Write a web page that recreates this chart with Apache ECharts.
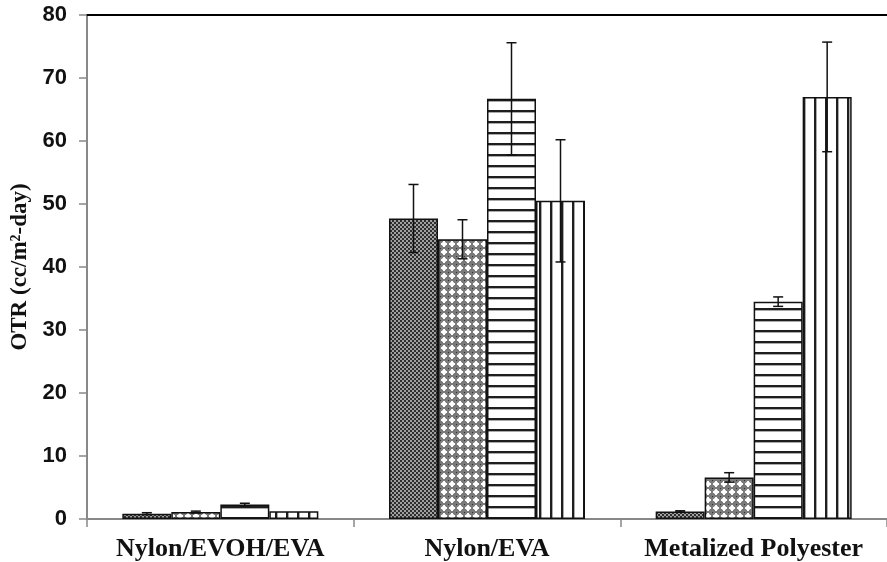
<!DOCTYPE html>
<html>
<head>
<meta charset="utf-8">
<script src="https://cdn.jsdelivr.net/npm/echarts@6/dist/echarts.min.js"></script>
<style>html,body{margin:0;padding:0;background:#fff}#c{width:887px;height:562px}</style>
</head>
<body>
<div id="c"></div>
<script>
const categories = ['Nylon/EVOH/EVA', 'Nylon/EVA', 'Metalized Polyester'];
const series1 = [0.85, 47.7, 1.2];
const series2 = [1.1, 44.4, 6.6];
const series3 = [2.3, 66.7, 34.5];
const series4 = [1.25, 50.5, 67.0];
const err1 = [0.15, 5.4, 0.1];
const err2 = [0.15, 3.1, 0.75];
const err3 = [0.2, 8.9, 0.75];
const err4 = [0, 9.7, 8.7];
const yTicks = [0, 10, 20, 30, 40, 50, 60, 70, 80];

function tile(w, h, draw) {
  const c = document.createElement('canvas');
  c.width = w; c.height = h;
  const g = c.getContext('2d');
  draw(g);
  return c;
}
const pat1 = tile(4, 4, g => {
  g.fillStyle = '#a0a0a0'; g.fillRect(0, 0, 4, 4);
  g.fillStyle = '#2e2e2e'; g.fillRect(0, 0, 2, 2); g.fillRect(2, 2, 2, 2);
});
const pat2 = tile(8, 8, g => {
  g.fillStyle = '#7a7a7a'; g.fillRect(0, 0, 8, 8);
  g.fillStyle = '#ffffff'; g.fillRect(3, 1, 2, 6); g.fillRect(1, 3, 6, 2);
  g.fillStyle = '#d8d8d8'; g.fillRect(2, 2, 4, 4);
  g.fillStyle = '#ffffff'; g.fillRect(3, 2, 2, 4); g.fillRect(2, 3, 4, 2);
  g.fillStyle = '#333'; g.fillRect(0, 0, 1, 1);
});
const pat3 = tile(4, 11, g => {
  g.fillStyle = '#ffffff'; g.fillRect(0, 0, 4, 11);
  g.fillStyle = '#1e1e1e'; g.fillRect(0, 0, 4, 2);
  g.fillStyle = '#aaaaaa'; g.fillRect(0, 2, 4, 1);
});
const pat4 = tile(11, 4, g => {
  g.fillStyle = '#ffffff'; g.fillRect(0, 0, 11, 4);
  g.fillStyle = '#1e1e1e'; g.fillRect(0, 0, 2, 4);
  g.fillStyle = '#aaaaaa'; g.fillRect(2, 0, 1, 4);
});

const values = [series1, series2, series3, series4];
const errs = [err1, err2, err3, err4];
const pats = [pat1, pat2, pat3, pat4];
const BW = 49;

const errData = [];
values.forEach((arr, s) => arr.forEach((v, ci) => errData.push([ci, v, errs[s][ci], s])));

const chart = echarts.init(document.getElementById('c'), null, {renderer: 'canvas'});
const barSeries = values.map((arr, s) => ({
  type: 'bar',
  data: arr,
  barWidth: BW,
  barGap: '0%',
  itemStyle: {color: {image: pats[s], repeat: 'repeat'}, borderColor: '#111', borderWidth: 1.5},
  emphasis: {disabled: true},
  z: 2
}));

chart.setOption({
  animation: false,
  grid: {left: 87, right: 0, top: 15, bottom: 43, containLabel: false, outerBoundsMode: 'none'},
  xAxis: [{
    type: 'category',
    data: categories,
    axisLine: {lineStyle: {color: '#888', width: 2}},
    axisTick: {show: true, length: 8, lineStyle: {color: '#888', width: 1.5}},
    axisLabel: {interval: 0, hideOverlap: false, fontFamily: 'Liberation Serif', fontWeight: 'bold', fontSize: 26, color: '#111', margin: 17}
  }, {
    type: 'category',
    position: 'top',
    data: categories,
    axisLine: {lineStyle: {color: '#000', width: 2}},
    axisTick: {show: false},
    axisLabel: {show: false}
  }],
  yAxis: {
    type: 'value',
    min: 0, max: 80, interval: 10,
    name: 'OTR (cc/m\u00b2-day)',
    nameLocation: 'middle',
    nameGap: 55,
    nameTextStyle: {fontFamily: 'Liberation Serif', fontWeight: 'bold', fontSize: 23, color: '#111'},
    axisLine: {show: true, lineStyle: {color: '#888', width: 2}},
    axisTick: {show: true, length: 8, lineStyle: {color: '#888', width: 1.5}},
    splitLine: {show: false},
    axisLabel: {fontFamily: 'Liberation Sans', fontWeight: 'bold', fontSize: 22, color: '#111', margin: 20,
      formatter: v => yTicks.includes(v) ? String(v) : ''}
  },
  series: barSeries.concat([{
    type: 'custom',
    data: errData,
    encode: {x: 0, y: 1},
    z: 5,
    renderItem: (params, api) => {
      const ci = api.value(0), v = api.value(1), e = api.value(2), s = api.value(3);
      if (!e) return null;
      const cx = api.coord([ci, 0])[0] + (s - 1.5) * BW;
      const yH = api.coord([ci, v + e])[1];
      const yL = api.coord([ci, v - e])[1];
      const st = {stroke: '#111', lineWidth: 1.5};
      return {type: 'group', children: [
        {type: 'line', shape: {x1: cx, y1: yH, x2: cx, y2: yL}, style: st},
        {type: 'line', shape: {x1: cx - 5, y1: yH, x2: cx + 5, y2: yH}, style: st},
        {type: 'line', shape: {x1: cx - 5, y1: yL, x2: cx + 5, y2: yL}, style: st}
      ]};
    }
  }])
});
</script>
</body>
</html>
